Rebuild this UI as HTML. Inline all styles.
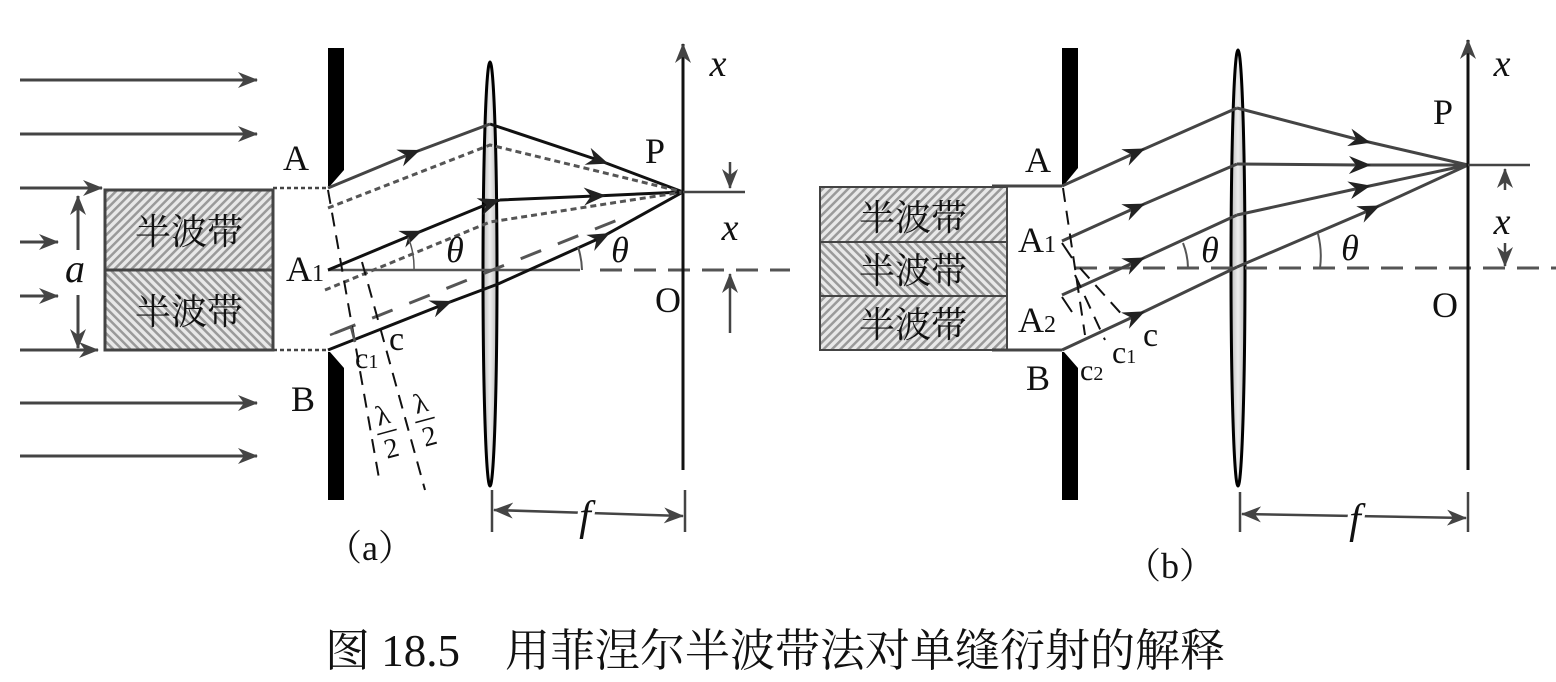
<!DOCTYPE html>
<html><head><meta charset="utf-8"><style>
html,body{margin:0;padding:0;background:#fff}
svg{display:block}
text{font-family:"Liberation Serif","Noto Serif CJK SC",serif;fill:#111}
.cjk{font-family:"Liberation Serif","Noto Serif CJK SC","Noto Sans CJK SC",serif}
.it{font-style:italic}
</style></head><body>
<svg width="1556" height="682" viewBox="0 0 1556 682" xmlns="http://www.w3.org/2000/svg">
<defs>
<pattern id="h1" width="6" height="6" patternUnits="userSpaceOnUse" patternTransform="rotate(45)">
<rect width="6" height="6" fill="#e8e8e8"/><rect width="2.5" height="6" fill="#9a9a9a"/></pattern>
<pattern id="h2" width="6" height="6" patternUnits="userSpaceOnUse" patternTransform="rotate(-45)">
<rect width="6" height="6" fill="#e8e8e8"/><rect width="2.5" height="6" fill="#9a9a9a"/></pattern>
<linearGradient id="lg" x1="0" x2="1"><stop offset="0" stop-color="#bbb"/><stop offset="0.5" stop-color="#eee"/><stop offset="1" stop-color="#bbb"/></linearGradient>
<marker id="ar" markerWidth="20" markerHeight="16" refX="19" refY="8" orient="auto" markerUnits="userSpaceOnUse"><path d="M0,0 L20,8 L0,16 L6,8z" fill="#444"/></marker>
<marker id="mid" markerWidth="22" markerHeight="18" refX="11" refY="9" orient="auto" markerUnits="userSpaceOnUse"><path d="M0,0 L22,9 L0,18 L7,9z" fill="#222"/></marker>
</defs>

<!-- ===== Panel (a) ===== -->
<g stroke="#444" stroke-width="3" fill="none">
<line x1="20" y1="80" x2="257" y2="80" marker-end="url(#ar)"/>
<line x1="20" y1="134" x2="257" y2="134" marker-end="url(#ar)"/>
<line x1="20" y1="188" x2="102" y2="188" marker-end="url(#ar)"/>
<line x1="20" y1="242" x2="58" y2="242" marker-end="url(#ar)"/>
<line x1="20" y1="296" x2="58" y2="296" marker-end="url(#ar)"/>
<line x1="20" y1="350" x2="98" y2="350" marker-end="url(#ar)"/>
<line x1="20" y1="403" x2="257" y2="403" marker-end="url(#ar)"/>
<line x1="20" y1="456" x2="257" y2="456" marker-end="url(#ar)"/>
<line x1="78" y1="250" x2="78" y2="196" marker-end="url(#ar)"/>
<line x1="78" y1="295" x2="78" y2="348" marker-end="url(#ar)"/>
</g>
<rect x="105" y="190" width="168" height="80" fill="url(#h1)" stroke="#444" stroke-width="3"/>
<rect x="105" y="270" width="168" height="80" fill="url(#h2)" stroke="#444" stroke-width="3"/>
<text x="189" y="244" font-size="36" text-anchor="middle" class="cjk">半波带</text>
<text x="189" y="324" font-size="36" text-anchor="middle" class="cjk">半波带</text>
<text x="75" y="282" font-size="40" text-anchor="middle" class="it">a</text>
<g stroke="#444" stroke-width="2.5" stroke-dasharray="4,3">
<line x1="273" y1="188" x2="328" y2="188"/><line x1="273" y1="350" x2="328" y2="350"/></g>
<path d="M328,48 H344 V170 L330,186 H328z" fill="#000"/>
<path d="M328,352 H330 L344,368 V500 H328z" fill="#000"/>
<text x="296" y="170" font-size="36" text-anchor="middle">A</text>
<text x="286" y="281" font-size="36">A<tspan font-size="24">1</tspan></text>
<text x="303" y="411" font-size="36" text-anchor="middle">B</text>
<ellipse cx="490" cy="274" rx="7" ry="212" fill="url(#lg)" stroke="#000" stroke-width="3"/>
<line x1="328" y1="270" x2="580" y2="270" stroke="#555" stroke-width="2.5"/>
<line x1="600" y1="270" x2="790" y2="270" stroke="#555" stroke-width="3" stroke-dasharray="22,12"/>
<line x1="335" y1="333" x2="630" y2="215" stroke="#555" stroke-width="3" stroke-dasharray="22,18"/>
<g fill="none" stroke-width="3">
<polyline points="328,188 410,154 490,124" stroke="#444" marker-mid="url(#mid)"/>
<polyline points="490,124 598,160 683,192" stroke="#111" marker-mid="url(#mid)"/>
<polyline points="328,270 412,235 490,203 500,200" stroke="#111" marker-mid="url(#mid)"/>
<polyline points="500,200 595,196 683,192" stroke="#111" marker-mid="url(#mid)"/>
<polyline points="328,350 442,305 498,284" stroke="#111" marker-mid="url(#mid)"/>
<polyline points="498,284 600,238 683,192" stroke="#111" marker-mid="url(#mid)"/>
<polyline points="328,208 490,145 683,192" stroke="#555" stroke-dasharray="6,4"/>
<polyline points="325,290 490,222 683,192" stroke="#555" stroke-dasharray="6,4"/>
</g>
<path d="M408,237 A80,80 0 0 1 414,270" fill="none" stroke="#555" stroke-width="1.5"/>
<path d="M578,247 A80,80 0 0 1 582,270" fill="none" stroke="#555" stroke-width="2"/>
<text x="455" y="262" font-size="36" class="it" text-anchor="middle">θ</text>
<text x="620" y="262" font-size="36" class="it" text-anchor="middle">θ</text>
<g stroke="#111" stroke-width="2" stroke-dasharray="14,9">
<line x1="328" y1="190" x2="380" y2="484"/>
<line x1="362" y1="262" x2="425" y2="490"/>
</g>
<path d="M330,335 L351,327 L355,342" fill="none" stroke="#555" stroke-width="2.5"/>
<text x="355" y="368" font-size="30">c<tspan font-size="20">1</tspan></text>
<text x="389" y="350" font-size="34">c</text>
<g transform="translate(387,432) rotate(-15)">
<text x="0" y="-8" font-size="28" text-anchor="middle">λ</text><line x1="-10" y1="0" x2="10" y2="0" stroke="#111" stroke-width="1.5"/><text x="0" y="26" font-size="28" text-anchor="middle">2</text></g>
<g transform="translate(425,420) rotate(-15)">
<text x="0" y="-8" font-size="28" text-anchor="middle">λ</text><line x1="-10" y1="0" x2="10" y2="0" stroke="#111" stroke-width="1.5"/><text x="0" y="26" font-size="28" text-anchor="middle">2</text></g>
<line x1="683" y1="470" x2="683" y2="44" stroke="#111" stroke-width="3" marker-end="url(#ar)"/>
<line x1="683" y1="192" x2="745" y2="192" stroke="#444" stroke-width="2.5"/>
<text x="718" y="76" font-size="38" class="it" text-anchor="middle">x</text>
<text x="655" y="163" font-size="36" text-anchor="middle">P</text>
<text x="668" y="312" font-size="36" text-anchor="middle">O</text>
<text x="730" y="240" font-size="38" class="it" text-anchor="middle">x</text>
<line x1="730" y1="162" x2="730" y2="188" stroke="#444" stroke-width="2.5" marker-end="url(#ar)"/>
<line x1="730" y1="333" x2="730" y2="274" stroke="#444" stroke-width="2.5" marker-end="url(#ar)"/>
<line x1="492" y1="490" x2="492" y2="532" stroke="#444" stroke-width="2.5"/>
<line x1="685" y1="490" x2="685" y2="532" stroke="#444" stroke-width="2.5"/>
<line x1="590" y1="513" x2="494" y2="510" stroke="#444" stroke-width="2.5" marker-end="url(#ar)"/>
<line x1="590" y1="513" x2="683" y2="516" stroke="#444" stroke-width="2.5" marker-end="url(#ar)"/>
<text x="585" y="530" font-size="42" class="it" text-anchor="middle" style="paint-order:stroke" stroke="#fff" stroke-width="6">f</text>
<text x="370" y="560" font-size="36" text-anchor="middle" class="cjk">（a）</text>

<!-- ===== Panel (b) ===== -->
<rect x="820" y="187" width="187" height="55" fill="url(#h1)" stroke="#444" stroke-width="2"/>
<rect x="820" y="242" width="187" height="54" fill="url(#h2)" stroke="#444" stroke-width="2"/>
<rect x="820" y="296" width="187" height="54" fill="url(#h1)" stroke="#444" stroke-width="2"/>
<text x="913" y="230" font-size="36" text-anchor="middle" class="cjk">半波带</text>
<text x="913" y="283" font-size="36" text-anchor="middle" class="cjk">半波带</text>
<text x="913" y="337" font-size="36" text-anchor="middle" class="cjk">半波带</text>
<line x1="992" y1="186" x2="1062" y2="186" stroke="#444" stroke-width="3"/>
<line x1="992" y1="350" x2="1062" y2="350" stroke="#444" stroke-width="3"/>
<path d="M1062,48 H1078 V168 L1064,185 H1062z" fill="#000"/>
<path d="M1062,352 H1064 L1078,368 V500 H1062z" fill="#000"/>
<text x="1038" y="172" font-size="36" text-anchor="middle">A</text>
<text x="1018" y="252" font-size="36">A<tspan font-size="24">1</tspan></text>
<text x="1018" y="332" font-size="36">A<tspan font-size="24">2</tspan></text>
<text x="1038" y="390" font-size="36" text-anchor="middle">B</text>
<ellipse cx="1238" cy="268" rx="7" ry="218" fill="url(#lg)" stroke="#000" stroke-width="3"/>
<line x1="1075" y1="268" x2="1556" y2="268" stroke="#555" stroke-width="3" stroke-dasharray="22,12"/>
<g fill="none" stroke="#444" stroke-width="3">
<polyline points="1062,186 1135,153 1237,108" marker-mid="url(#mid)"/>
<polyline points="1237,108 1360,140 1468,165" marker-mid="url(#mid)"/>
<polyline points="1062,241 1135,208 1237,164" marker-mid="url(#mid)"/>
<polyline points="1237,164 1360,165 1468,165" marker-mid="url(#mid)"/>
<polyline points="1062,295 1135,262 1237,215" marker-mid="url(#mid)"/>
<polyline points="1237,215 1360,188 1468,165" marker-mid="url(#mid)"/>
<polyline points="1062,350 1135,316 1237,267" marker-mid="url(#mid)"/>
<polyline points="1237,267 1370,210 1468,165" marker-mid="url(#mid)"/>
</g>
<path d="M1183,243 A70,70 0 0 1 1188,268" fill="none" stroke="#555" stroke-width="2"/>
<path d="M1318,234 A90,90 0 0 1 1320,268" fill="none" stroke="#555" stroke-width="2"/>
<text x="1210" y="262" font-size="36" class="it" text-anchor="middle">θ</text>
<text x="1350" y="260" font-size="36" class="it" text-anchor="middle">θ</text>
<g stroke="#111" stroke-width="2" stroke-dasharray="14,9">
<line x1="1063" y1="188" x2="1085" y2="335"/>
<line x1="1075" y1="275" x2="1105" y2="340"/>
<line x1="1080" y1="268" x2="1125" y2="318"/>
</g>
<path d="M1062,243 L1072,258" stroke="#111" stroke-width="2"/>
<path d="M1062,297 L1072,312" stroke="#111" stroke-width="2"/>
<text x="1080" y="380" font-size="30">c<tspan font-size="20">2</tspan></text>
<text x="1112" y="363" font-size="32">c<tspan font-size="20">1</tspan></text>
<text x="1143" y="346" font-size="34">c</text>
<line x1="1468" y1="470" x2="1468" y2="40" stroke="#111" stroke-width="3" marker-end="url(#ar)"/>
<line x1="1468" y1="165" x2="1530" y2="165" stroke="#444" stroke-width="2.5"/>
<text x="1502" y="76" font-size="38" class="it" text-anchor="middle">x</text>
<text x="1443" y="124" font-size="36" text-anchor="middle">P</text>
<text x="1445" y="317" font-size="36" text-anchor="middle">O</text>
<text x="1502" y="234" font-size="38" class="it" text-anchor="middle">x</text>
<line x1="1505" y1="190" x2="1505" y2="169" stroke="#444" stroke-width="2.5" marker-end="url(#ar)"/>
<line x1="1505" y1="243" x2="1505" y2="266" stroke="#444" stroke-width="2.5" marker-end="url(#ar)"/>
<line x1="1240" y1="492" x2="1240" y2="532" stroke="#444" stroke-width="2.5"/>
<line x1="1468" y1="492" x2="1468" y2="532" stroke="#444" stroke-width="2.5"/>
<line x1="1355" y1="516" x2="1242" y2="514" stroke="#444" stroke-width="2.5" marker-end="url(#ar)"/>
<line x1="1355" y1="516" x2="1466" y2="518" stroke="#444" stroke-width="2.5" marker-end="url(#ar)"/>
<text x="1355" y="533" font-size="42" class="it" text-anchor="middle" style="paint-order:stroke" stroke="#fff" stroke-width="6">f</text>
<text x="1170" y="578" font-size="36" text-anchor="middle" class="cjk">（b）</text>

<text x="325" y="666" font-size="45" class="cjk">图 18.5　用菲涅尔半波带法对单缝衍射的解释</text>
</svg>
</body></html>
